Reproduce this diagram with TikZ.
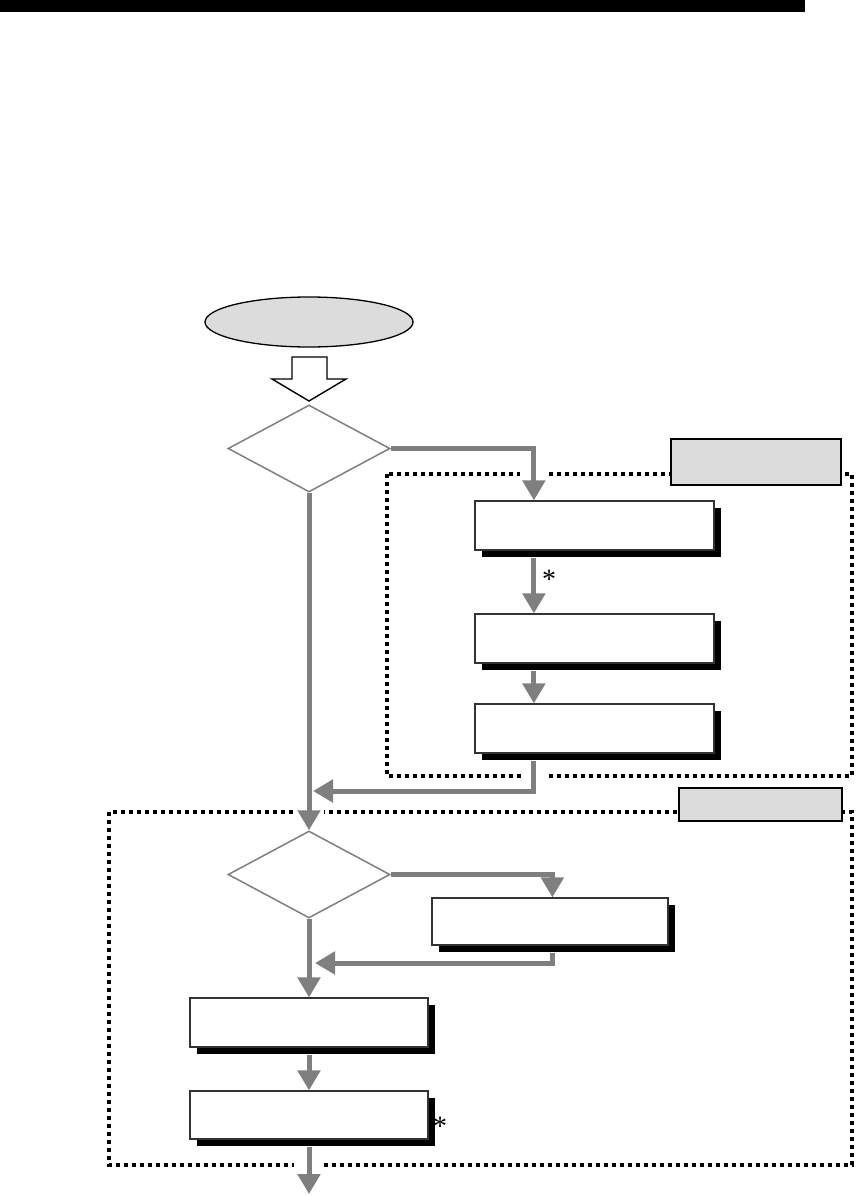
\documentclass[tikz,border=0pt]{standalone}
\usepackage{fontspec}
\setmainfont{Liberation Serif}
\usetikzlibrary{arrows.meta,shapes.geometric,shadows}
\definecolor{lgray}{HTML}{DCDCDC}
\definecolor{cgray}{HTML}{7F7F7F}
\begin{document}
\begin{tikzpicture}[x=1pt,y=-1pt,
  conn/.style={draw=cgray,line width=5pt,-{Triangle[width=22pt,length=20pt]}},
  procbox/.style={rectangle,draw=black!80,line width=1.2pt,fill=white,inner sep=0pt,
    drop shadow={shadow xshift=7pt,shadow yshift=-7pt,fill=black,opacity=1}},
  decbox/.style={diamond,draw=cgray,line width=1.5pt,fill=white,inner sep=0pt,
    minimum width=162pt,minimum height=87pt},
  tagbox/.style={rectangle,draw=black,line width=1.3pt,fill=lgray,inner sep=0pt},
  groupline/.style={draw=black,line width=4pt,dash pattern=on 4pt off 4pt},
  star/.style={inner sep=0pt,font=\fontsize{28}{30}\selectfont}
]
\useasboundingbox (0,0) rectangle (856,1196);
% top bar
\fill[black] (0,0) rectangle (805,12);
% dotted group frames
\draw[groupline] (387,474) rectangle (852,776);
\draw[groupline] (109,812) rectangle (852,1165);
% gaps in the frames where connectors cross
\fill[white] (520,469) rectangle (548,479);
\fill[white] (522,771) rectangle (548,781);
\fill[white] (294,807) rectangle (324,817);
\fill[white] (294,1160) rectangle (324,1170);
% tags
\node[tagbox,minimum width=170pt,minimum height=46pt] (tag1) at (756,462) {};
\node[tagbox,minimum width=163pt,minimum height=33pt] (tag2) at (760.5,804.5) {};
% start ellipse
\node[ellipse,draw=black,line width=1.3pt,fill=lgray,inner sep=0pt,
  minimum width=208pt,minimum height=50pt] (start) at (309,322) {};
% hollow block arrow
\draw[black,line width=1.4pt,fill=white,line join=miter]
  (292,357) -- (327,357) -- (327,379) -- (346,379) -- (309,401) -- (272,379) -- (292,379) -- cycle;
% decisions
\node[decbox] (d1) at (309,448.5) {};
\node[decbox] (d2) at (309,874.5) {};
% process boxes
\node[procbox,minimum width=239pt,minimum height=49pt] (b1) at (594.5,525.5) {};
\node[procbox,minimum width=239pt,minimum height=49pt] (b2) at (594.5,638.5) {};
\node[procbox,minimum width=239pt,minimum height=49pt] (b3) at (594.5,728.5) {};
\node[procbox,minimum width=236pt,minimum height=47pt] (b4) at (550,921.5) {};
\node[procbox,minimum width=238pt,minimum height=49pt] (b5) at (309,1022.5) {};
\node[procbox,minimum width=238pt,minimum height=48pt] (b6) at (309,1115) {};
% junction coordinates
\coordinate (j1) at (313,791);
\coordinate (j2) at (315,963);
\coordinate (endp) at (309,1194);
% connectors
\draw[conn] (d1.east) -| ([xshift=59.5pt]b1.north west);
\draw[conn] ([xshift=59.5pt,yshift=-7pt]b1.south west) -- ([xshift=59.5pt]b2.north west);
\draw[conn] ([xshift=59.5pt,yshift=-7pt]b2.south west) -- ([xshift=59.5pt]b3.north west);
\draw[conn] ([xshift=59.5pt,yshift=-7pt]b3.south west) |- (j1);
\draw[conn] (d1.south) -- (d2.north);
\draw[conn] (d2.east) -| ([xshift=121pt]b4.north west);
\draw[conn] ([xshift=121pt,yshift=-7pt]b4.south west) |- (j2);
\draw[conn] (d2.south) -- (b5.north);
\draw[conn] ([yshift=-7pt]b5.south) -- (b6.north);
\draw[conn] ([yshift=-7pt]b6.south) -- (endp);
% asterisks
\node[star] (s1) at (549,579) {*};
\node[star] (s2) at (440,1126) {*};
\end{tikzpicture}
\end{document}
